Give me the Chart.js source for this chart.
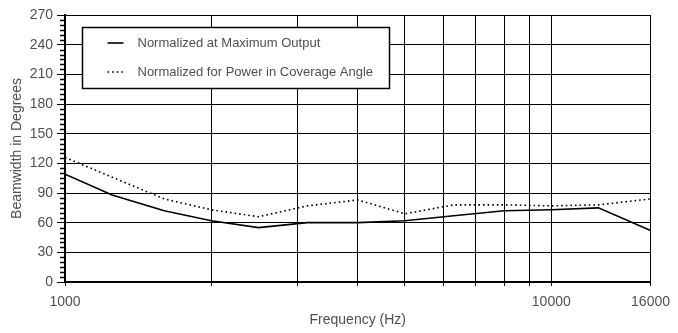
<!DOCTYPE html>
<html><head><meta charset="utf-8">
<script src="https://cdn.jsdelivr.net/npm/chart.js@4"></script>
<style>html,body{margin:0;padding:0;background:#fff}#wrap{width:678px;height:333px}</style>
</head><body><div id="wrap"><canvas id="c" width="678" height="333"></canvas></div>
<script>
const frequencies = [1000, 1250, 1600, 2000, 2500, 3150, 4000, 5000, 6300, 8000, 10000, 12500, 16000];
const maxOutput   = [109, 88, 72, 62, 55, 60, 60, 62, 67, 72, 73, 75, 52];
const powerNorm   = [126, 106, 84, 73, 66, 77, 83, 69, 78, 78, 77, 78, 84];
const xGridTicks  = [1000, 2000, 3000, 4000, 5000, 6000, 7000, 8000, 9000, 10000, 16000];
const xTickLabels = [1000, 10000, 16000];
const yMajorStep = 30, yMinorStep = 5, yMin = 0, yMax = 270;
const seriesLabels = ['Normalized at Maximum Output', 'Normalized for Power in Coverage Angle'];

const FONT = 'Liberation Sans, Arial, sans-serif';
const TXT = '#505050';

const minorTicks = {
  id: 'minorTicks',
  afterDraw(chart) {
    const y = chart.scales.y, ctx = chart.ctx, left = chart.chartArea.left;
    ctx.save(); ctx.strokeStyle = '#000'; ctx.lineWidth = 1.5;
    for (let v = yMin; v <= yMax; v += yMinorStep) {
      if (v % yMajorStep === 0) continue;
      const py = Math.round(y.getPixelForValue(v)) + 0.5;
      ctx.beginPath(); ctx.moveTo(left - 5, py); ctx.lineTo(left, py); ctx.stroke();
    }
    ctx.restore();
  }
};

const boxLegend = {
  id: 'boxLegend',
  afterDatasetsDraw(chart) {
    const ctx = chart.ctx, a = chart.chartArea;
    const bx = a.left + 17.5, by = a.top + 12.5, bw = 307, bh = 61;
    ctx.save();
    ctx.fillStyle = '#fff'; ctx.fillRect(bx, by, bw, bh);
    ctx.strokeStyle = '#000'; ctx.lineWidth = 1.5; ctx.strokeRect(bx, by, bw, bh);
    const rows = [by + 15.5, by + 44.5];
    chart.data.datasets.forEach((ds, i) => {
      const yy = rows[i];
      ctx.beginPath();
      ctx.strokeStyle = '#000'; ctx.lineWidth = ds.borderWidth;
      ctx.setLineDash(ds.borderDash || []);
      ctx.moveTo(bx + 25, yy); ctx.lineTo(bx + 41, yy); ctx.stroke();
      ctx.setLineDash([]);
      ctx.fillStyle = TXT; ctx.font = '13px ' + FONT; ctx.textBaseline = 'middle'; ctx.textAlign = 'left';
      ctx.fillText(ds.label, bx + 55, yy);
    });
    ctx.restore();
  }
};

new Chart(document.getElementById('c'), {
  type: 'line',
  data: {
    datasets: [
      { label: seriesLabels[0], data: frequencies.map((f, i) => ({x: f, y: maxOutput[i]})),
        borderColor: '#000', borderWidth: 1.6, pointRadius: 0, tension: 0, fill: false },
      { label: seriesLabels[1], data: frequencies.map((f, i) => ({x: f, y: powerNorm[i]})),
        borderColor: '#000', borderWidth: 1.6, borderDash: [1.6, 3], pointRadius: 0, tension: 0, fill: false }
    ]
  },
  options: {
    responsive: false, animation: false, devicePixelRatio: 1,
    layout: { padding: { left: 0, top: 15, right: 24, bottom: 0 } },
    plugins: { legend: { display: false }, tooltip: { enabled: false } },
    scales: {
      x: {
        type: 'logarithmic', min: 1000, max: 16000,
        afterBuildTicks: s => { s.ticks = xGridTicks.map(v => ({ value: v })); },
        afterFit: s => { s.height = 51; },
        grid: { color: '#000', lineWidth: 1, tickLength: 4, tickColor: '#000' },
        border: { color: '#000', width: 2 },
        ticks: { autoSkip: false, maxRotation: 0, padding: 8, color: TXT, font: { family: FONT, size: 14 },
          callback: v => xTickLabels.includes(v) ? String(v) : '' },
        title: { display: true, text: 'Frequency (Hz)', color: TXT, font: { family: FONT, size: 14 }, padding: { top: 0, bottom: 4 } }
      },
      y: {
        min: yMin, max: yMax,
        afterFit: s => { s.width = 65; },
        grid: { color: '#000', lineWidth: 1, tickLength: 8, tickColor: '#000' },
        border: { color: '#000', width: 2 },
        ticks: { stepSize: yMajorStep, padding: 4, color: TXT, font: { family: FONT, size: 14 } },
        title: { display: true, text: 'Beamwidth in Degrees', color: TXT, font: { family: FONT, size: 14 }, padding: { top: 9, bottom: 0 } }
      }
    }
  },
  plugins: [minorTicks, boxLegend]
});
</script></body></html>
